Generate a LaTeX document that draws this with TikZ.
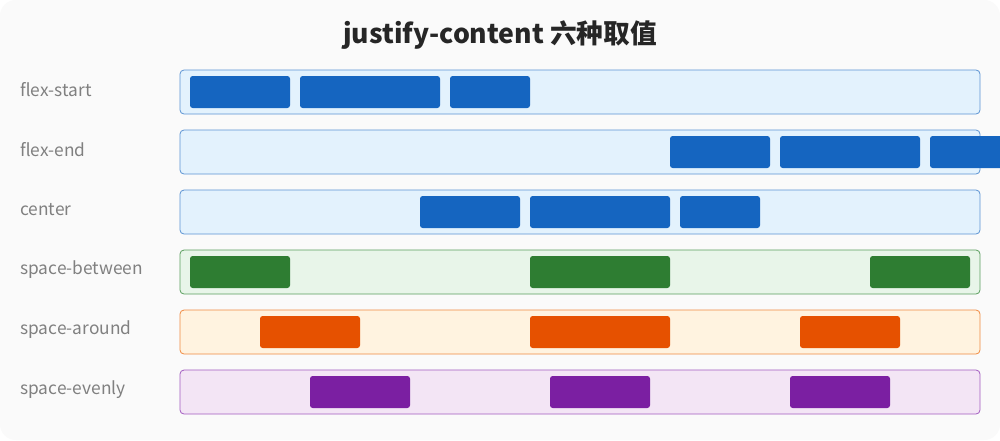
\documentclass[tikz,border=0pt]{standalone}
\usepackage{fontspec}
\setmainfont{Noto Sans CJK SC}
\begin{document}
\begin{tikzpicture}[x=0.75pt,y=-0.75pt,
  lab/.style={anchor=west,text=black!50,font=\fontsize{13pt}{15pt}\selectfont,inner sep=0},
  box/.style={rounded corners=3pt,line width=0.6pt},
  item/.style={rounded corners=2pt}]
\definecolor{bI}{HTML}{1565C0}\definecolor{bF}{HTML}{E3F2FD}\definecolor{bB}{HTML}{5B93D3}
\definecolor{gI}{HTML}{2E7D32}\definecolor{gF}{HTML}{E8F5E9}\definecolor{gB}{HTML}{5A9E5E}
\definecolor{oI}{HTML}{E65100}\definecolor{oF}{HTML}{FFF3E0}\definecolor{oB}{HTML}{F08A40}
\definecolor{pI}{HTML}{7B1FA2}\definecolor{pF}{HTML}{F3E5F5}\definecolor{pB}{HTML}{A25BC0}
\useasboundingbox (0,0) rectangle (1000,440);
\fill[white] (0,0) rectangle (1000,440);
\fill[rounded corners=12pt,fill={rgb,255:red,250;green,250;blue,250}] (0,0) rectangle (1000,440);
\node[font=\bfseries\fontsize{20pt}{24pt}\selectfont,text=black!85] (title) at (500,35) {justify-content 六种取值};
\begin{scope}
\clip (0,0) rectangle (1000,440);
\foreach \y/\t/\C/\a/\b/\c/\d/\e/\f in {
 70/flex-start/b/190/290/300/440/450/530,
 130/flex-end/b/670/770/780/920/930/1010,
 190/center/b/420/520/530/670/680/760,
 250/space-between/g/190/290/530/670/870/970,
 310/space-around/o/260/360/530/670/800/900,
 370/space-evenly/p/310/410/550/650/790/890}{
 \node[lab] (l\y) at (20,\y+20) {\t};
 \draw[box,draw=\C B,fill=\C F] (180,\y) rectangle (980,\y+44);
 \fill[item,\C I] (\a,\y+6) rectangle (\b,\y+38);
 \fill[item,\C I] (\c,\y+6) rectangle (\d,\y+38);
 \fill[item,\C I] (\e,\y+6) rectangle (\f,\y+38);
}
\end{scope}
\end{tikzpicture}
\end{document}
